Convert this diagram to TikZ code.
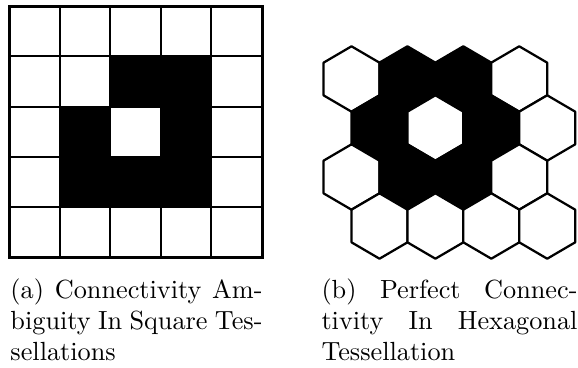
\documentclass[tikz,border=0pt]{standalone}
\usepackage{tikz}
\hyphenation{Am-biguity Tes-sellations Tes-sellation Connec-tivity Hexagonal}
\tikzset{
  gridline/.style={draw=black, line width=0.8pt},
  gridframe/.style={draw=black, line width=1.2pt},
  hexcell/.style={draw=black, line width=0.9pt, line join=round},
  capnode/.style={anchor=north west, inner sep=0pt, align=justify, font=\fontsize{10.5}{12.5}\selectfont}
}

\begin{document}
\begin{tikzpicture}[x=0.4pt, y=-0.4pt]
\useasboundingbox (0,0) rectangle (578,367);

% square tessellation
\foreach \c/\r in {2/1,3/1,1/2,3/2,1/3,2/3,3/3}
  \fill[black] (9+50.6*\c,6+50.3*\r) rectangle ++(50.6,50.3);
\foreach \i in {1,...,4} {
  \draw[gridline] (9+50.6*\i,6) -- (9+50.6*\i,257.5);
  \draw[gridline] (9,6+50.3*\i) -- (262,6+50.3*\i);
}
\draw[gridframe] (9,6) rectangle (262,257.5);

% hexagonal tessellation
\foreach \cx/\cy/\col in {
  351.5/79/white, 407.4/79/black, 463.3/79/black, 519.2/79/white,
  379.5/128/black, 435.4/128/white, 491.3/128/black, 547.2/128/white,
  351.5/177/white, 407.4/177/black, 463.3/177/black, 519.2/177/white,
  379.5/226/white, 435.4/226/white, 491.3/226/white, 547.2/226/white}
  \filldraw[hexcell, fill=\col] (\cx,\cy) +(0,-32.7) -- +(27.95,-16.35) -- +(27.95,16.35)
    -- +(0,32.7) -- +(-27.95,16.35) -- +(-27.95,-16.35) -- cycle;

% captions
\node[capnode, text width=100.8pt] (capa) at (10,278)
  {(a) Connectivity Ambiguity In Square Tessellations};
\node[capnode, text width=102.4pt] (capb) at (321,278)
  {(b) Perfect Connectivity In Hexagonal Tessellation};
\end{tikzpicture}
\end{document}
